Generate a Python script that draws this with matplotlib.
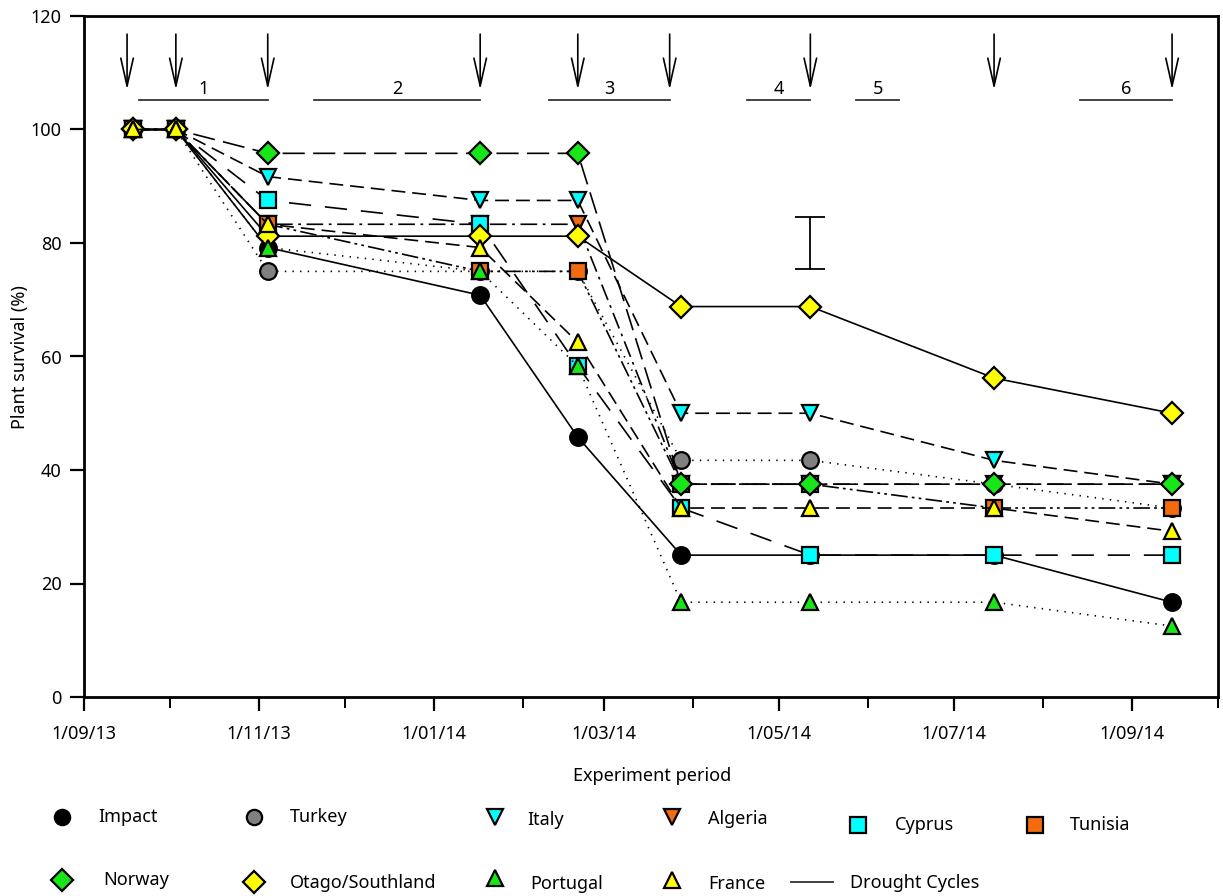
import matplotlib
matplotlib.use("Agg")
import matplotlib.pyplot as plt
import matplotlib.dates as mdates
from matplotlib.lines import Line2D
import numpy as np
from datetime import datetime

plt.rcParams['font.family'] = ['Noto Sans', 'DejaVu Sans']
plt.rcParams['lines.scale_dashes'] = False

# ---- data ----
sample_dates = ["2013-09-18", "2013-10-03", "2013-11-04", "2014-01-17", "2014-02-20",
                "2014-03-28", "2014-05-12", "2014-07-15", "2014-09-15"]

impact   = [100, 100, 79.2, 70.8, 45.8, 25.0, 25.0, 25.0, 16.7]
turkey   = [100, 100, 75.0, 75.0, 75.0, 41.7, 41.7, 37.5, 33.3]
italy    = [100, 100, 91.7, 87.5, 87.5, 50.0, 50.0, 41.7, 37.5]
algeria  = [100, 100, 83.3, 83.3, 83.3, 37.5, 37.5, 37.5, 37.5]
cyprus   = [100, 100, 87.5, 83.3, 58.3, 33.3, 25.0, 25.0, 25.0]
tunisia  = [100, 100, 83.3, 75.0, 75.0, 37.5, 37.5, 33.3, 33.3]
norway   = [100, 100, 95.8, 95.8, 95.8, 37.5, 37.5, 37.5, 37.5]
otago    = [100, 100, 81.2, 81.2, 81.2, 68.8, 68.8, 56.2, 50.0]
portugal = [100, 100, 79.2, 75.0, 58.3, 16.7, 16.7, 16.7, 12.5]
france   = [100, 100, 83.3, 79.2, 62.5, 33.3, 33.3, 33.3, 29.2]

series_names = ["Impact", "Turkey", "Italy", "Algeria", "Cyprus", "Tunisia",
                "Norway", "Otago/Southland", "Portugal", "France"]

# irrigation arrows (dates)
arrow_dates = ["2013-09-16", "2013-10-03", "2013-11-04", "2014-01-17", "2014-02-20",
               "2014-03-24", "2014-05-12", "2014-07-15", "2014-09-15"]
# drought cycles (start, end)
cycle_labels = ["1", "2", "3", "4", "5", "6"]
cycle_starts = ["2013-09-20", "2013-11-20", "2014-02-10", "2014-04-20", "2014-05-28", "2014-08-14"]
cycle_ends   = ["2013-11-04", "2014-01-17", "2014-03-24", "2014-05-12", "2014-06-12", "2014-09-15"]

# error bar
err_date = "2014-05-12"
err_value = 80.0
err_half = 4.5

tick_dates = ["2013-09-01", "2013-11-01", "2014-01-01", "2014-03-01", "2014-05-01", "2014-07-01", "2014-09-01"]
tick_labels = ["1/09/13", "1/11/13", "1/01/14", "1/03/14", "1/05/14", "1/07/14", "1/09/14"]

# ---- styles ----
all_values = [impact, turkey, italy, algeria, cyprus, tunisia, norway, otago, portugal, france]
markers = ['o', 'o', 'v', 'v', 's', 's', 'D', 'D', '^', '^']
colors = ['#000000', '#808080', '#00ffff', '#f26b0f', '#00ffff', '#f26b0f',
          '#19e619', '#ffff00', '#19e619', '#ffff00']
msizes = [12, 12, 12, 12, 11, 11, 11, 11, 12, 12]
dash_styles = [None, (1, 4.5), (10, 5), (12, 4, 2, 4), (16, 10), (12, 3, 2, 3, 2, 3),
               (16, 6), None, (1, 4.5), (10, 5)]

def d(s):
    return mdates.date2num(datetime.strptime(s, "%Y-%m-%d"))

x = [d(s) for s in sample_dates]

fig = plt.figure(figsize=(12.23, 8.96), dpi=100)
ax = fig.add_axes([84/1223, 1-697/896, (1218-84)/1223, (697-16)/896])

for vals, mk, col, ms, ds in zip(all_values, markers, colors, msizes, dash_styles):
    kw = dict(color='black', lw=1.2, marker=mk, markersize=ms, markerfacecolor=col,
              markeredgecolor='black', markeredgewidth=1.6, clip_on=False)
    if ds is None:
        ax.plot(x, vals, ls='-', **kw)
    else:
        ax.plot(x, vals, dashes=ds, **kw)

# error bar
ax.errorbar([d(err_date)], [err_value], yerr=[err_half], fmt='none', ecolor='black',
            elinewidth=1.3, capsize=11, capthick=1.3)

# arrows
for ad in arrow_dates:
    ax.annotate('', xy=(d(ad), 107.0), xytext=(d(ad), 116.8),
                arrowprops=dict(arrowstyle='->,head_length=2.0,head_width=0.45',
                                lw=1.2, color='black', shrinkA=0, shrinkB=0))

# drought cycles
for lab, s, e in zip(cycle_labels, cycle_starts, cycle_ends):
    ax.plot([d(s), d(e)], [105.2, 105.2], color='#333333', lw=1.3)
    ax.text((d(s) + d(e)) / 2, 105.5, lab, ha='center', va='bottom', fontsize=13)

ax.set_xlim(d("2013-09-01"), d("2014-10-01"))
ax.set_ylim(0, 120)
ax.set_yticks(np.arange(0, 121, 20))
ax.set_xticks([d(t) for t in tick_dates])
ax.set_xticklabels(tick_labels)
ax.xaxis.set_minor_locator(mdates.MonthLocator())
ax.tick_params(axis='both', which='major', direction='out', length=10, width=1.6,
               labelsize=13, pad=6)
ax.tick_params(axis='x', which='major', pad=10)
ax.tick_params(axis='x', which='minor', direction='out', length=8, width=1.4)
for sp in ax.spines.values():
    sp.set_linewidth(2.0)

fig.text(652/1223, 1-776/896, "Experiment period", ha='center', va='center', fontsize=13)
fig.text(20/1223, 1-357/896, "Plant survival (%)", ha='center', va='center',
         rotation=90, fontsize=13)

# legend (manual placement)
leg_pos = [  # marker x, marker y, text x, text y (pixels)
    (62, 817, 98, 817), (254, 817, 290, 817), (495, 817, 527, 820), (672, 817, 708, 819),
    (858, 825, 895, 825), (1035, 825, 1070, 825),
    (62, 880, 103, 880), (254, 882, 290, 883), (495, 878, 530, 884), (672, 880, 708, 884),
]
for (mx, my, tx, ty), name, mk, col in zip(leg_pos, series_names, markers, colors):
    fig.add_artist(Line2D([mx/1223], [1-my/896], transform=fig.transFigure, marker=mk,
                          markersize=11, markerfacecolor=col, markeredgecolor='black',
                          markeredgewidth=1.6, ls='none'))
    fig.text(tx/1223, 1-ty/896, name, ha='left', va='center', fontsize=13)
fig.add_artist(Line2D([791/1223, 833/1223], [1-882/896, 1-882/896], transform=fig.transFigure,
                      color='#333333', lw=1.3))
fig.text(850/1223, 1-883/896, "Drought Cycles", ha='left', va='center', fontsize=13)

fig.savefig("out.png", dpi=100)
